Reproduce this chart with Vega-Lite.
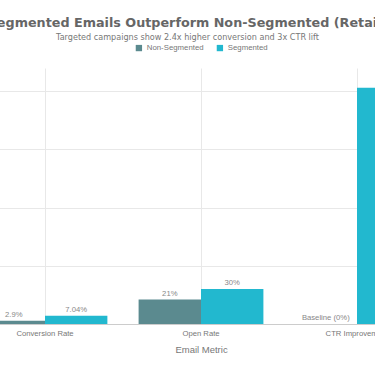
{
  "$schema": "https://vega.github.io/schema/vega-lite/v6.json",
  "autosize": {"type": "none"},
  "width": 468,
  "height": 256,
  "padding": {"left": -33, "top": 68, "right": 0, "bottom": 42},
  "background": "white",
  "title": {
    "text": "Segmented Emails Outperform Non-Segmented (Retail)",
    "subtitle": "Targeted campaigns show 2.4x higher conversion and 3x CTR lift",
    "anchor": "middle",
    "frame": "group",
    "dx": -13.5,
    "font": "DejaVu Sans",
    "fontSize": 12.75,
    "fontWeight": "bold",
    "color": "#666666",
    "subtitleFont": "DejaVu Sans",
    "subtitleFontSize": 8.1,
    "subtitleColor": "#777777",
    "subtitlePadding": 4,
    "offset": 2
  },
  "data": {
    "values": [
      {"metric": "Conversion Rate", "group": "Non-Segmented", "value": 2.9, "label": "2.9%"},
      {"metric": "Conversion Rate", "group": "Segmented", "value": 7.04, "label": "7.04%"},
      {"metric": "Open Rate", "group": "Non-Segmented", "value": 21, "label": "21%"},
      {"metric": "Open Rate", "group": "Segmented", "value": 30, "label": "30%"},
      {"metric": "CTR Improvement", "group": "Non-Segmented", "value": 0, "label": "Baseline (0%)"},
      {"metric": "CTR Improvement", "group": "Segmented", "value": 203, "label": "+203%"}
    ]
  },
  "encoding": {
    "x": {
      "field": "metric",
      "type": "nominal",
      "sort": ["Conversion Rate", "Open Rate", "CTR Improvement"],
      "scale": {"paddingInner": 0.2, "paddingOuter": 0.1},
      "title": "Email Metric",
      "axis": {
        "labelAngle": 0,
        "grid": true,
        "gridColor": "#e8e8e8",
        "domain": true,
        "domainColor": "#cccccc",
        "ticks": false,
        "labelFont": "Liberation Sans",
        "labelFontSize": 7.7,
        "labelColor": "#777777",
        "labelPadding": 5,
        "titleFont": "Liberation Sans",
        "titleFontSize": 9.5,
        "titleFontWeight": "normal",
        "titleColor": "#777777",
        "titlePadding": 8
      }
    },
    "xOffset": {"field": "group", "type": "nominal", "sort": ["Non-Segmented", "Segmented"]},
    "y": {
      "field": "value",
      "type": "quantitative",
      "scale": {"domain": [0, 220]},
      "title": "Improvement (%)",
      "axis": {
        "values": [0, 50, 100, 150, 200],
        "gridColor": "#e8e8e8",
        "domain": false,
        "ticks": false,
        "labelColor": "#666666"
      }
    }
  },
  "layer": [
    {
      "mark": {"type": "bar"},
      "encoding": {
        "color": {
          "field": "group",
          "type": "nominal",
          "sort": ["Non-Segmented", "Segmented"],
          "scale": {"domain": ["Non-Segmented", "Segmented"], "range": ["#5b8a8f", "#22b8cf"]},
          "legend": {
            "orient": "top",
            "title": null,
            "direction": "horizontal",
            "symbolType": "square",
            "symbolSize": 40,
            "symbolStrokeWidth": 0,
            "labelFont": "Liberation Sans",
            "labelFontSize": 7.8,
            "labelColor": "#777777",
            "columnPadding": 12,
            "offset": 16
          }
        }
      }
    },
    {
      "mark": {"type": "text", "dy": -6, "font": "Liberation Sans", "fontSize": 7.7, "color": "#888888"},
      "encoding": {"text": {"field": "label"}}
    }
  ],
  "config": {
    "view": {"stroke": null},
    "legend": {"layout": {"top": {"anchor": "middle"}}}
  }
}
